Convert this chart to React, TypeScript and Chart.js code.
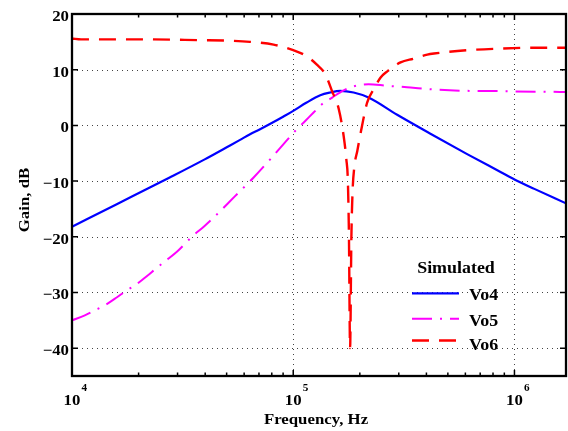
import React, { useEffect, useRef } from "react";
import { Chart, registerables } from "chart.js";

Chart.register(...registerables);

// ---- data ----
const FREQ_MIN = 1e4;
const FREQ_MAX = 1.71e6;
const GAIN_MIN = -45;
const GAIN_MAX = 20;
const Y_TICKS = [-40, -30, -20, -10, 0, 10, 20];
const X_DECADES = [4, 5, 6];
const SERIES_NAMES = ["Vo4", "Vo5", "Vo6"];
const LEGEND_TITLE = "Simulated";
const X_TITLE = "Frequency, Hz";
const Y_TITLE = "Gain, dB";

const vo4Freq = [10000, 15850, 27500, 39800, 51800, 57500, 63800, 70800, 81500, 90400, 100000, 115000, 132500, 147000, 163000, 187500, 219000, 295000, 417000, 614000, 869000, 1000000, 1230000, 1710000];
const vo4Gain = [-18.2, -14.2, -9.4, -6.1, -3.6, -2.6, -1.6, -0.7, 0.6, 1.6, 2.6, 4.1, 5.4, 5.9, 6.2, 5.9, 5.0, 1.9, -1.5, -5.2, -8.4, -9.7, -11.4, -14.0];

const vo5Freq = [10000, 11430, 12690, 14090, 15920, 17540, 19280, 21770, 23990, 26360, 29790, 34830, 39630, 43550, 54580, 66070, 78700, 93500, 102000, 113300, 123600, 134900, 150000, 169000, 187500, 219000, 266100, 305500, 338800, 432500, 613800, 869000, 1000000, 1710000];
const vo5Gain = [-35.0, -34.1, -33.2, -32.3, -30.9, -29.7, -28.7, -27.1, -25.7, -24.4, -22.7, -20.0, -18.1, -16.6, -12.7, -9.4, -6.1, -2.7, -1.0, 0.8, 2.3, 3.8, 5.0, 6.3, 7.0, 7.4, 7.1, 6.95, 6.8, 6.45, 6.2, 6.15, 6.1, 6.0];

const vo6Freq = [10000, 11000, 19950, 38000, 51800, 63800, 81500, 100000, 115300, 127900, 139600, 149600, 160700, 169000, 173800, 176600, 178600, 180700, 183200, 185400, 188800, 195000, 204600, 215800, 231200, 248300, 266100, 305500, 351600, 403600, 432500, 613800, 869000, 1230000, 1710000];
const vo6Gain = [15.6, 15.45, 15.45, 15.3, 15.2, 15.0, 14.5, 13.5, 12.4, 10.9, 9.2, 6.2, 2.9, -1.9, -6.1, -10, -20, -40, -20, -12, -7.5, -4.5, -0.1, 4.1, 6.5, 8.6, 9.7, 11.3, 12.0, 12.7, 12.9, 13.5, 13.8, 13.95, 13.95];

const COLORS = ["#0000ff", "#ff00ff", "#ff0000"];
const DASHES: number[][] = [[], [20, 8, 2, 8], [17, 10]];
const WIDTHS = [2.2, 2, 2.4];

const FONT = '"Liberation Serif", "Times New Roman", serif';
const SX = 1.12;

function drawText(
  ctx: CanvasRenderingContext2D,
  s: string,
  x: number,
  y: number,
  size: number,
  align: CanvasTextAlign,
  rot = 0
) {
  ctx.save();
  ctx.translate(x, y);
  if (rot) ctx.rotate(rot);
  ctx.scale(SX, 1);
  ctx.font = `bold ${size}px ${FONT}`;
  ctx.fillStyle = "#000";
  ctx.textAlign = align;
  ctx.textBaseline = "alphabetic";
  ctx.fillText(s, 0, 0);
  ctx.restore();
}

const decorPlugin = {
  id: "decor",
  beforeDatasetsDraw(chart: any) {
    const { ctx, chartArea: a, scales } = chart;
    const xs = scales.x;
    const ys = scales.y;
    ctx.save();
    ctx.strokeStyle = "#444";
    ctx.lineWidth = 1;
    ctx.setLineDash([1, 4]);
    for (const d of X_DECADES) {
      const v = Math.pow(10, d);
      if (v <= FREQ_MIN || v >= FREQ_MAX) continue;
      const px = Math.round(xs.getPixelForValue(v)) + 0.5;
      ctx.beginPath();
      ctx.moveTo(px, a.top);
      ctx.lineTo(px, a.bottom);
      ctx.stroke();
    }
    for (const t of Y_TICKS) {
      if (t >= GAIN_MAX || t <= GAIN_MIN) continue;
      const py = Math.round(ys.getPixelForValue(t)) + 0.5;
      ctx.beginPath();
      ctx.moveTo(a.left, py);
      ctx.lineTo(a.right, py);
      ctx.stroke();
    }
    ctx.restore();
  },
  afterDraw(chart: any) {
    const { ctx, chartArea: a, scales } = chart;
    const xs = scales.x;
    const ys = scales.y;
    ctx.save();
    ctx.setLineDash([]);
    ctx.strokeStyle = "#000";
    // ticks
    ctx.lineWidth = 1.5;
    for (const d of X_DECADES) {
      for (let m = 1; m <= 9; m++) {
        const v = m * Math.pow(10, d);
        if (v < FREQ_MIN || v > FREQ_MAX) continue;
        const px = xs.getPixelForValue(v);
        const len = m === 1 ? 6 : 3.5;
        ctx.beginPath();
        ctx.moveTo(px, a.bottom);
        ctx.lineTo(px, a.bottom - len);
        ctx.moveTo(px, a.top);
        ctx.lineTo(px, a.top + len);
        ctx.stroke();
      }
    }
    for (const t of Y_TICKS) {
      const py = ys.getPixelForValue(t);
      ctx.beginPath();
      ctx.moveTo(a.left, py);
      ctx.lineTo(a.left + 6, py);
      ctx.moveTo(a.right, py);
      ctx.lineTo(a.right - 6, py);
      ctx.stroke();
    }
    // frame
    ctx.lineWidth = 2.3;
    ctx.strokeRect(a.left, a.top, a.right - a.left, a.bottom - a.top);

    // y tick labels
    for (const t of Y_TICKS) {
      const py = ys.getPixelForValue(t);
      const s = t < 0 ? "\u2212" + Math.abs(t) : String(t);
      drawText(ctx, s, a.left - 3, py + 7, 15, "right");
    }
    // x tick labels
    for (const d of X_DECADES) {
      const v = Math.pow(10, d);
      if (v < FREQ_MIN || v > FREQ_MAX) continue;
      const px = xs.getPixelForValue(v);
      drawText(ctx, "10", px, a.bottom + 29, 15, "center");
      drawText(ctx, String(d), px + 9.5, a.bottom + 14.5, 10, "left");
    }
    // axis titles
    drawText(ctx, X_TITLE, (a.left + a.right) / 2 - 3, a.bottom + 48, 15, "center");
    drawText(ctx, Y_TITLE, 28.5, (a.top + a.bottom) / 2 + 5, 15, "center", -Math.PI / 2);

    // legend
    const lx0 = a.right - 154;
    const lx1 = a.right - 107;
    const tx = a.right - 97;
    drawText(ctx, LEGEND_TITLE, a.right - 110, a.bottom - 103.5, 16, "center");
    const lineYs = [a.bottom - 82.7, a.bottom - 57.3, a.bottom - 35.5];
    const textYs = [a.bottom - 76.5, a.bottom - 50, a.bottom - 26.5];
    chart.data.datasets.forEach((ds: any, i: number) => {
      ctx.save();
      ctx.strokeStyle = ds.borderColor;
      ctx.lineWidth = ds.borderWidth;
      ctx.setLineDash(ds.borderDash || []);
      ctx.beginPath();
      ctx.moveTo(lx0, lineYs[i]);
      ctx.lineTo(lx1, lineYs[i]);
      ctx.stroke();
      ctx.restore();
      drawText(ctx, ds.label, tx, textYs[i], 16, "left");
    });
    ctx.restore();
  },
};

function toPoints(f: number[], g: number[]) {
  return f.map((x, i) => ({ x, y: g[i] }));
}

export default function App() {
  const ref = useRef<HTMLCanvasElement>(null);
  useEffect(() => {
    if (!ref.current) return;
    const series = [
      toPoints(vo4Freq, vo4Gain),
      toPoints(vo5Freq, vo5Gain),
      toPoints(vo6Freq, vo6Gain),
    ];
    const chart = new Chart(ref.current, {
      type: "line",
      data: {
        datasets: series.map((pts, i) => ({
          label: SERIES_NAMES[i],
          data: pts,
          borderColor: COLORS[i],
          backgroundColor: COLORS[i],
          borderWidth: WIDTHS[i],
          borderDash: DASHES[i],
          pointRadius: 0,
          fill: false,
          cubicInterpolationMode: "monotone" as const,
          order: 2 - i,
        })),
      },
      options: {
        animation: false,
        responsive: true,
        maintainAspectRatio: false,
        layout: { padding: { left: 72, top: 14, right: 2, bottom: 55 } },
        plugins: { legend: { display: false }, tooltip: { enabled: false } },
        scales: {
          x: { type: "logarithmic", min: FREQ_MIN, max: FREQ_MAX, display: false },
          y: { type: "linear", min: GAIN_MIN, max: GAIN_MAX, display: false },
        },
      },
      plugins: [decorPlugin],
    });
    return () => chart.destroy();
  }, []);
  return (
    <div style={{ position: "absolute", left: 0, top: 0, width: 568, height: 431, background: "#fff" }}>
      <canvas ref={ref} />
    </div>
  );
}
